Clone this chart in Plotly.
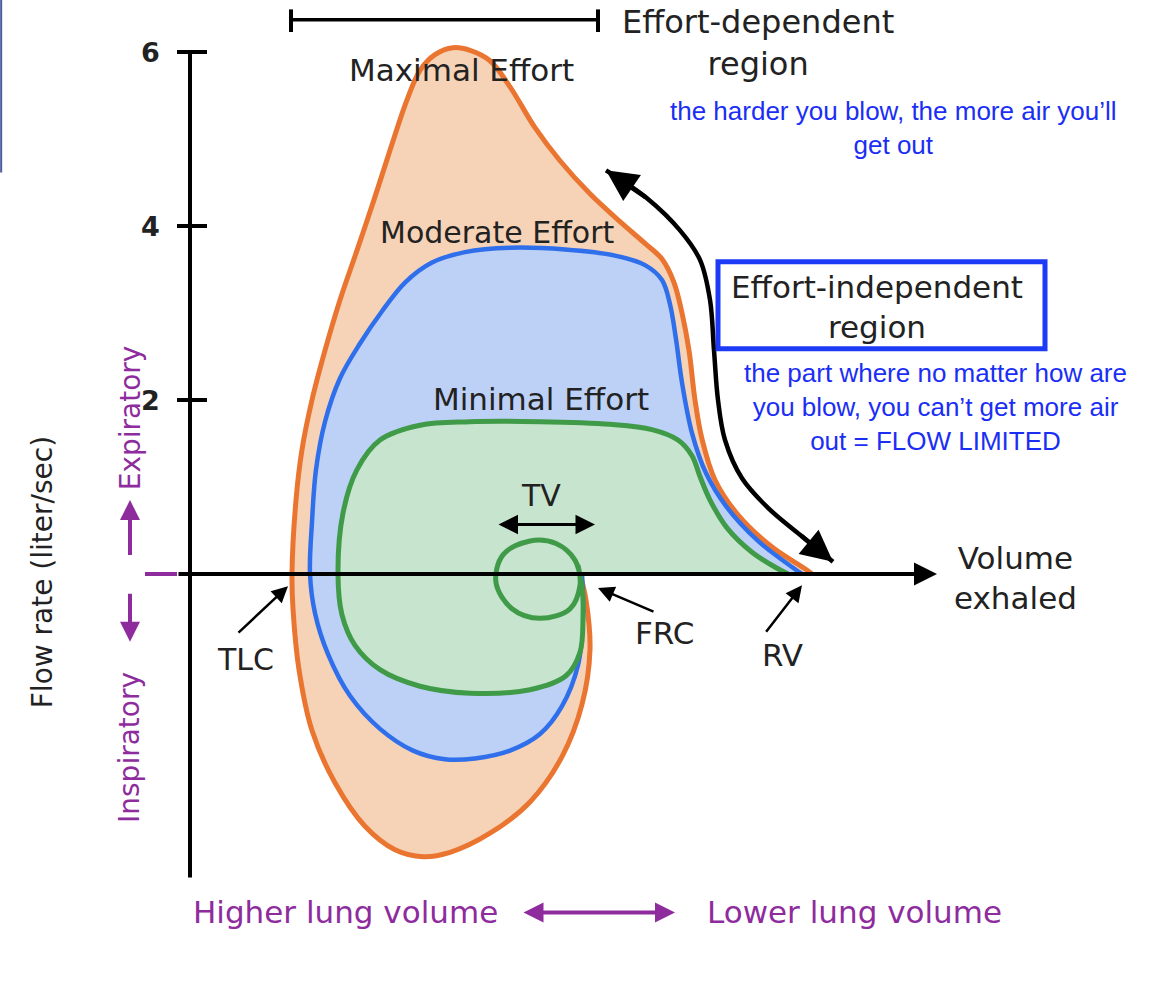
import plotly.graph_objects as go

# ---------------- data ----------------
# volume exhaled (0 = TLC) and flow rate (liter/sec); + expiratory, - inspiratory
MAX_VOL = [2.90, 2.96, 3.00, 2.92, 2.72, 2.40, 2.00, 1.60, 1.33, 1.05, 0.75, 0.45, 0.22, 0.09, 0.03, 0.02,
           0.06, 0.12, 0.22, 0.35, 0.50, 0.67, 0.84, 1.00, 1.17, 1.30, 1.45, 1.63,
           1.80, 2.00, 2.20, 2.45, 2.70, 3.00, 3.30, 3.55, 3.72, 3.84, 3.92, 3.99,
           4.05, 4.12, 4.25, 4.48, 4.82, 5.15, 5.22]
MAX_FLOW = [0.00, -0.30, -0.87, -1.50, -2.10, -2.62, -2.98, -3.20, -3.25, -3.17, -2.90, -2.40, -1.80, -1.10, -0.40, 0.00,
            0.85, 1.43, 2.00, 2.57, 3.15, 3.72, 4.30, 4.87, 5.45, 5.79, 5.97, 6.05,
            6.02, 5.90, 5.60, 5.13, 4.75, 4.37, 4.05, 3.80, 3.62, 3.35, 3.00, 2.57,
            2.00, 1.55, 1.08, 0.68, 0.31, 0.06, 0.00]

MOD_VOL = [2.92, 2.93, 2.88, 2.72, 2.50, 2.20, 1.85, 1.55, 1.23, 0.90, 0.60, 0.38, 0.25, 0.20,
           0.22, 0.26, 0.35, 0.50, 0.70, 0.92, 1.15, 1.42, 1.75, 2.20, 2.75, 3.25, 3.55, 3.72,
           3.80, 3.86, 3.92, 4.02, 4.16, 4.36, 4.68, 5.02, 5.12]
MOD_FLOW = [0.00, -0.50, -1.05, -1.52, -1.84, -2.03, -2.12, -2.13, -2.03, -1.78, -1.40, -0.92, -0.45, 0.00,
            0.60, 1.20, 1.75, 2.25, 2.65, 3.02, 3.35, 3.58, 3.70, 3.75, 3.73, 3.66, 3.55, 3.38,
            3.10, 2.70, 2.20, 1.62, 1.16, 0.78, 0.38, 0.08, 0.00]

# minimal effort: tidal-volume loop ("9"), then the full breath
MIN_VOL = [2.88, 2.90, 2.80, 2.50, 2.22, 2.06, 2.13, 2.40, 2.66, 2.85,
           2.92, 2.93, 2.90, 2.76, 2.40, 1.80, 1.30, 0.90, 0.65, 0.52, 0.48,
           0.53, 0.67, 0.90, 1.30, 1.80, 2.50, 3.20, 3.62, 3.88, 4.02, 4.10, 4.20,
           4.37, 4.62, 4.88, 4.98]
MIN_FLOW = [0.10, -0.13, -0.40, -0.51, -0.40, -0.10, 0.22, 0.38, 0.35, 0.16,
            -0.15, -0.50, -0.90, -1.17, -1.33, -1.37, -1.29, -1.10, -0.82, -0.47, 0.00,
            0.70, 1.20, 1.54, 1.71, 1.75, 1.75, 1.72, 1.66, 1.54, 1.36, 1.12, 0.85,
            0.53, 0.25, 0.06, 0.00]

# effort-independent curved arrow
ARC_VOL = [3.16, 3.57, 3.90, 4.10, 4.20, 4.24, 4.28, 4.35, 4.52, 4.78, 5.10, 5.43]
ARC_FLOW = [4.64, 4.32, 3.95, 3.61, 3.15, 2.57, 2.00, 1.54, 1.10, 0.76, 0.45, 0.14]

TICK_VALS = [6, 4, 2]
TICK_TEXT = ["6", "4", "2"]

Y_AXIS_X = -1.0
Y_AXIS_BOTTOM = -3.49
TLC, FRC, RV = 0.0, 2.88, 5.2

# ---------------- colours ----------------
ORANGE_FILL, ORANGE_LINE = "#F6D3B7", "#EA7530"
BLUE_FILL, BLUE_LINE = "#BDD1F6", "#2F6FEB"
GREEN_FILL, GREEN_LINE = "#C7E4CF", "#409B48"
PURPLE = "#8E2C9E"
TEXT_BLUE = "#1A2EF5"
DARK = "#222222"
LBL_FONT = "DejaVu Sans"
BLUE_FONT = "Liberation Sans, Arial"

fig = go.Figure()

def loop(vol, flow, fill, line, width):
    fig.add_trace(go.Scatter(x=vol, y=flow, mode="lines", fill="toself", fillcolor=fill,
                             line=dict(color="rgba(0,0,0,0)", width=0, shape="spline"),
                             hoverinfo="skip"))
    fig.add_trace(go.Scatter(x=vol, y=flow, mode="lines",
                             line=dict(color=line, width=width, shape="spline"),
                             hoverinfo="skip"))

loop(MAX_VOL, MAX_FLOW, ORANGE_FILL, ORANGE_LINE, 5)
loop(MOD_VOL, MOD_FLOW, BLUE_FILL, BLUE_LINE, 4.5)
# green fill uses the outer breath only, closed along the volume axis
fig.add_trace(go.Scatter(x=[MIN_VOL[10]] + MIN_VOL[10:], y=[0] + MIN_FLOW[10:], mode="lines",
                         fill="toself", fillcolor=GREEN_FILL,
                         line=dict(color="rgba(0,0,0,0)", width=0, shape="spline"), hoverinfo="skip"))
fig.add_trace(go.Scatter(x=MIN_VOL, y=MIN_FLOW, mode="lines",
                         line=dict(color=GREEN_LINE, width=5, shape="spline"), hoverinfo="skip"))

# curved black arrow shaft
fig.add_trace(go.Scatter(x=ARC_VOL, y=ARC_FLOW, mode="lines",
                         line=dict(color="black", width=4.5, shape="spline"), hoverinfo="skip"))

# y axis
fig.add_trace(go.Scatter(x=[Y_AXIS_X, Y_AXIS_X], y=[TICK_VALS[0], Y_AXIS_BOTTOM], mode="lines",
                         line=dict(color="black", width=4), hoverinfo="skip"))
for v in TICK_VALS:
    fig.add_trace(go.Scatter(x=[Y_AXIS_X - 0.13, Y_AXIS_X + 0.17], y=[v, v], mode="lines",
                             line=dict(color="black", width=4), hoverinfo="skip"))
# purple stub of the volume axis
fig.add_trace(go.Scatter(x=[-1.45, -1.13], y=[0, 0], mode="lines",
                         line=dict(color=PURPLE, width=4), hoverinfo="skip"))
# top bracket (effort-dependent region)
fig.add_trace(go.Scatter(x=[0.01, 3.08], y=[6.37, 6.37], mode="lines",
                         line=dict(color="black", width=3.5), hoverinfo="skip"))
for bx in [0.01, 3.08]:
    fig.add_trace(go.Scatter(x=[bx, bx], y=[6.49, 6.23], mode="lines",
                             line=dict(color="black", width=4), hoverinfo="skip"))

fig.update_traces(showlegend=False)

anns = []

def arrow(x, y, ax, ay, color="black", width=3, head=2, size=1.0, both=False):
    anns.append(dict(x=x, y=y, ax=ax, ay=ay, xref="x", yref="y", axref="x", ayref="y",
                     text="", showarrow=True, arrowhead=head, arrowsize=size, arrowwidth=width,
                     arrowcolor=color, startarrowhead=head, startarrowsize=size,
                     arrowside="end+start" if both else "end"))

def label(x, y, text, size, color=DARK, family=LBL_FONT, angle=0, bold=False):
    if bold:
        text = "<b>" + text + "</b>"
    anns.append(dict(x=x, y=y, xref="x", yref="y", text=text, showarrow=False,
                     textangle=angle, align="center",
                     font=dict(family=family, size=size, color=color)))

# volume axis with arrow
arrow(6.47, 0, -1.13, 0, width=4, size=1.15)
# curved arrow heads
arrow(ARC_VOL[0], ARC_FLOW[0], ARC_VOL[1], ARC_FLOW[1], width=4.5, size=1.4)
arrow(ARC_VOL[-1], ARC_FLOW[-1], ARC_VOL[-2], ARC_FLOW[-2], width=4.5, size=1.4)
# TLC / FRC / RV pointers
arrow(TLC - 0.02, -0.14, -0.53, -0.69, width=2.5, size=1.3)
arrow(3.08, -0.16, 3.65, -0.44, width=2.5, size=1.3)
arrow(RV - 0.08, -0.13, 4.75, -0.68, width=2.5, size=1.3)
# tidal volume double arrow
arrow(3.05, 0.57, 2.07, 0.57, width=3, size=1.3, both=True)
# purple direction arrows
arrow(-1.60, 0.85, -1.60, 0.20, color=PURPLE, width=4, size=1.0)
arrow(-1.60, -0.78, -1.60, -0.21, color=PURPLE, width=4, size=1.0)
arrow(3.85, -3.89, 2.32, -3.89, color=PURPLE, width=4, size=1.0, both=True)

# tick labels
for v, t in zip(TICK_VALS, TICK_TEXT):
    label(-1.40, v, t, 27, color="#222222", bold=True)

label(1.71, 5.79, "Maximal Effort", 31)
label(2.07, 3.93, "Moderate Effort", 30)
label(2.51, 2.01, "Minimal Effort", 31)
label(2.51, 0.90, "TV", 30)
label(-0.45, -0.98, "TLC", 30)
label(3.74, -0.68, "FRC", 31)
label(4.92, -0.93, "RV", 31)
label(7.25, -0.05, "Volume<br>exhaled", 31)
label(4.68, 6.10, "Effort-dependent<br>region", 32)
label(5.87, 3.07, "Effort-independent<br>region", 31)
label(6.03, 5.13, "the harder you blow, the more air you’ll<br>get out", 26,
      color=TEXT_BLUE, family=BLUE_FONT)
label(6.45, 1.92, "the part where no matter how are<br>you blow, you can’t get more air<br>out = FLOW LIMITED", 26,
      color=TEXT_BLUE, family=BLUE_FONT)
label(-2.48, 0.02, "Flow rate (liter/sec)", 28, angle=-90)
label(-1.60, 1.79, "Expiratory", 28, color=PURPLE, angle=-90)
label(-1.60, -2.00, "Inspiratory", 28, color=PURPLE, angle=-90)
label(0.55, -3.89, "Higher lung volume", 31, color=PURPLE)
label(5.64, -3.89, "Lower lung volume", 31, color=PURPLE)

shapes = [
    dict(type="rect", xref="x", yref="y", x0=4.28, x1=7.55, y0=2.59, y1=3.59,
         line=dict(color="#1D3BF5", width=5)),
    dict(type="line", xref="paper", yref="paper", x0=0.001, x1=0.001, y0=1, y1=0.825,
         line=dict(color="#4A5A9A", width=2)),
]

fig.update_layout(
    width=1162, height=986, autosize=False,
    margin=dict(l=0, r=0, t=0, b=0, pad=0),
    paper_bgcolor="white", plot_bgcolor="white",
    xaxis=dict(range=[-2.9, 8.72], visible=False, fixedrange=True),
    yaxis=dict(range=[-4.736, 6.598], visible=False, fixedrange=True),
    annotations=anns, shapes=shapes, showlegend=False,
)

fig.write_html("out.html", config={"displayModeBar": False},
               post_script="document.body.style.margin='0';document.body.style.overflow='hidden';")
